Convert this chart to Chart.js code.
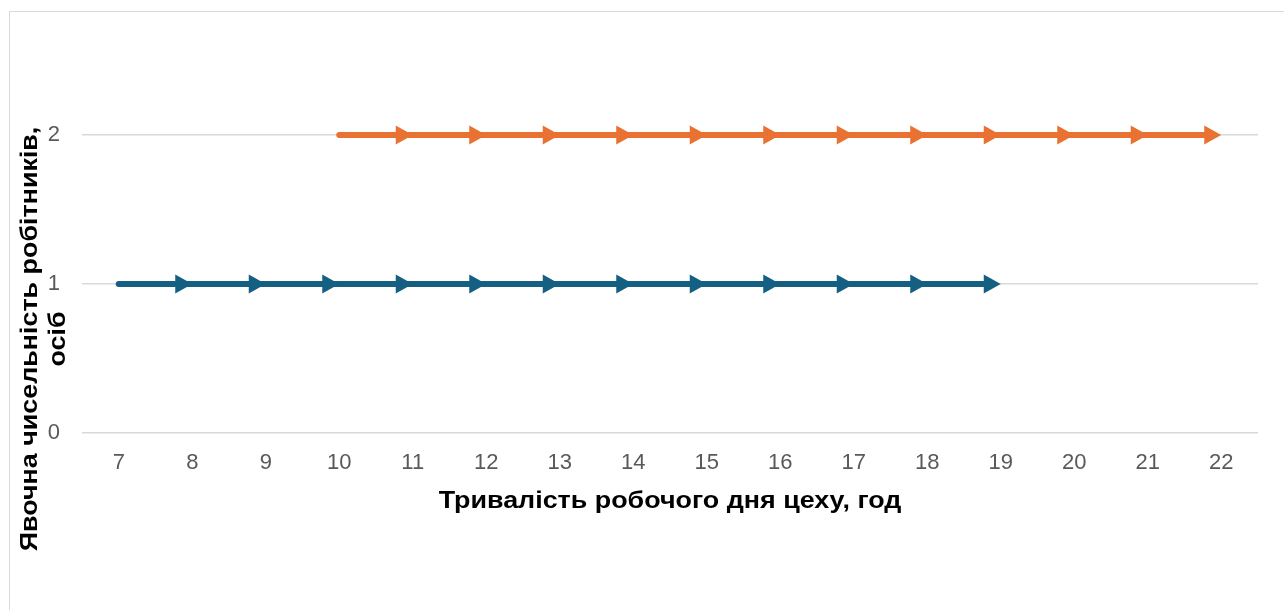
<!DOCTYPE html>
<html lang="uk">
<head>
<meta charset="utf-8">
<title>Явочна чисельність робітників</title>
<script src="https://cdn.jsdelivr.net/npm/chart.js@4.4.1/dist/chart.umd.min.js"></script>
<style>
  html, body { margin: 0; padding: 0; background: #ffffff; overflow: hidden; }
  #frame {
    position: absolute; left: 9px; top: 11px;
    width: 1290px; height: 620px;
    border: 1px solid #d9d9d9; background: #ffffff;
  }
  #box { position: relative; width: 1290px; height: 620px; }
</style>
</head>
<body>
<div id="frame"><div id="box"><canvas id="shiftChart"></canvas></div></div>
<script>
// Hours of the workshop day (x categories)
const hours = ['7', '8', '9', '10', '11', '12', '13', '14', '15', '16', '17', '18', '19', '20', '21', '22'];
// Workers present: first shift 7..19, second shift 10..22
const firstShift  = [1, 1, 1, 1, 1, 1, 1, 1, 1, 1, 1, 1, 1, null, null, null];
const secondShift = [null, null, null, 2, 2, 2, 2, 2, 2, 2, 2, 2, 2, 2, 2, 2];
const yMin = 0, yMax = 2, yStep = 1;

const xTitle = 'Тривалість робочого дня цеху, год';
const yTitle = ['Явочна чисельність робітників,', 'осіб'];

const BLUE = '#156082';
const ORANGE = '#E97132';
const FONT = "'Liberation Sans', Arial, sans-serif";

// arrowhead size
const ARROW_LEN = 17;
const ARROW_HALF = 9.5;
// titles are a bit wider than plain Arial
const TITLE_STRETCH = 1.12;

function validPoints(meta) {
    return meta.data.filter((p, i) => meta._parsed[i] && meta._parsed[i].y !== null && !isNaN(p.y));
}

// Draws arrowheads at every point after the first, trims line under the final tip
const arrowPlugin = {
    id: 'arrowHeads',
    beforeDatasetDraw(chart, args) {
        const pts = validPoints(args.meta);
        const ctx = chart.ctx;
        ctx.save();
        if (!pts.length) return;
        const last = pts[pts.length - 1];
        ctx.beginPath();
        ctx.rect(0, 0, last.x - 8, chart.height);
        ctx.clip();
    },
    afterDatasetDraw(chart, args) {
        const ctx = chart.ctx;
        ctx.restore();
        const pts = validPoints(args.meta);
        const color = chart.data.datasets[args.index].borderColor;
        ctx.save();
        ctx.fillStyle = color;
        for (let i = 1; i < pts.length; i++) {
            const a = pts[i - 1], b = pts[i];
            const ang = Math.atan2(b.y - a.y, b.x - a.x);
            ctx.save();
            ctx.translate(b.x, b.y);
            ctx.rotate(ang);
            ctx.beginPath();
            ctx.moveTo(0, 0);
            ctx.lineTo(-ARROW_LEN, -ARROW_HALF);
            ctx.lineTo(-ARROW_LEN, ARROW_HALF);
            ctx.closePath();
            ctx.fill();
            ctx.restore();
        }
        ctx.restore();
    }
};

// Axis titles: x centred under the plot, y in two rotated lines a little below the plot centre
const axisTitlePlugin = {
    id: 'axisTitles',
    afterDraw(chart) {
        const ctx = chart.ctx;
        const area = chart.chartArea;
        ctx.save();
        ctx.fillStyle = '#000000';
        ctx.font = 'bold 24px ' + FONT;
        ctx.textAlign = 'center';
        ctx.textBaseline = 'alphabetic';

        ctx.save();
        ctx.translate((area.left + area.right) / 2, area.bottom + 75);
        ctx.scale(TITLE_STRETCH, 1);
        ctx.fillText(xTitle, 0, 0);
        ctx.restore();

        const cy = (area.top + area.bottom) / 2 + 55;
        ctx.translate(27, cy);
        ctx.rotate(-Math.PI / 2);
        ctx.scale(TITLE_STRETCH, 1);
        ctx.fillText(yTitle[0], 0, 0);
        ctx.fillText(yTitle[1], 0, 28);
        ctx.restore();
    }
};

const ctx = document.getElementById('shiftChart').getContext('2d');
new Chart(ctx, {
    type: 'line',
    data: {
        labels: hours,
        datasets: [{
            label: 'Зміна 1',
            data: firstShift,
            borderColor: BLUE,
            backgroundColor: BLUE,
            borderWidth: 6,
            borderCapStyle: 'round',
            pointRadius: 0,
            pointHoverRadius: 0,
            spanGaps: false,
            tension: 0,
            clip: false
        }, {
            label: 'Зміна 2',
            data: secondShift,
            borderColor: ORANGE,
            backgroundColor: ORANGE,
            borderWidth: 6,
            borderCapStyle: 'round',
            pointRadius: 0,
            pointHoverRadius: 0,
            spanGaps: false,
            tension: 0,
            clip: false
        }]
    },
    options: {
        responsive: true,
        maintainAspectRatio: false,
        animation: false,
        layout: { padding: { left: 0, top: 123, right: 42, bottom: 0 } },
        plugins: {
            legend: { display: false },
            tooltip: { enabled: false }
        },
        scales: {
            x: {
                offset: true,
                grid: { display: false, drawTicks: false },
                border: { display: false },
                ticks: {
                    color: '#595959',
                    font: { family: FONT, size: 22 },
                    padding: 17,
                    maxRotation: 0,
                    autoSkip: false
                },
                afterFit(scale) { scale.height = 199; }
            },
            y: {
                min: yMin,
                max: yMax,
                grid: { color: '#d9d9d9', lineWidth: 1.5, drawTicks: false },
                border: { display: false },
                ticks: {
                    stepSize: yStep,
                    color: '#595959',
                    font: { family: FONT, size: 22 },
                    padding: 22
                },
                afterFit(scale) { scale.width = 72; }
            }
        }
    },
    plugins: [arrowPlugin, axisTitlePlugin]
});
</script>
</body>
</html>
